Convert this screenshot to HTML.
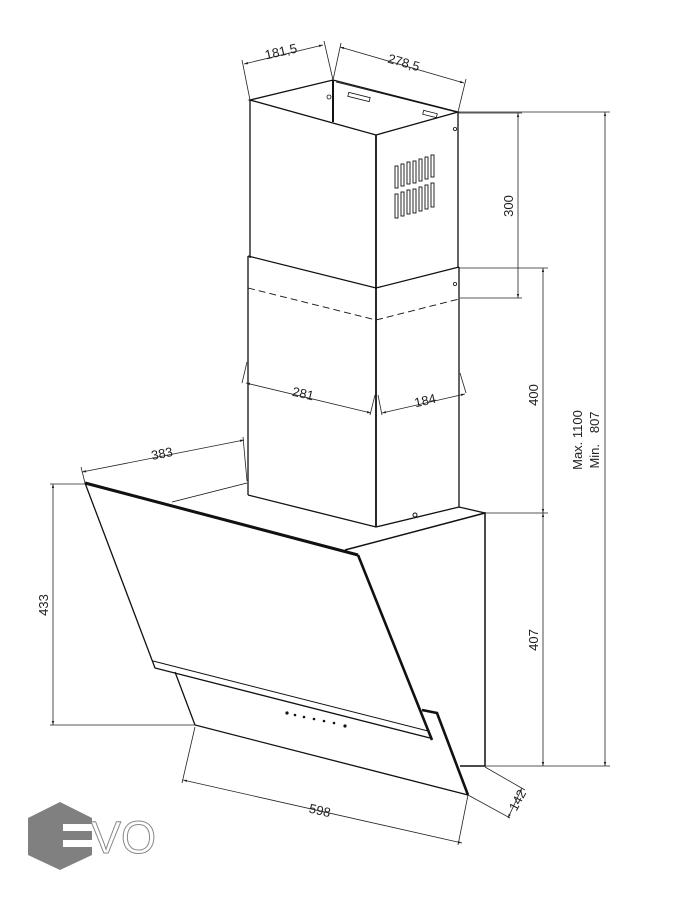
<!DOCTYPE html>
<html><head><meta charset="utf-8"><style>
html,body{margin:0;padding:0;background:#fff;}
svg{display:block;}
text{font-family:"Liberation Sans",sans-serif;font-size:13px;fill:#222;}
</style></head><body>
<svg width="699" height="900" viewBox="0 0 699 900" xmlns="http://www.w3.org/2000/svg">
<defs>
<marker id="a" viewBox="0 0 10 10" refX="10" refY="5" markerWidth="7" markerHeight="5" orient="auto-start-reverse"><path d="M0,2 L10,5 L0,8 z" fill="#222"/></marker>
</defs>
<g fill="none" stroke="#111" stroke-width="1.3">
<path d="M250,100 L333,80 L458,112 L376,135 Z"/>
<line x1="250" y1="100" x2="250" y2="258"/>
<line x1="376" y1="135" x2="376" y2="527" stroke-width="1.8"/>
<line x1="458" y1="112" x2="458" y2="268"/>
<line x1="333" y1="80" x2="333" y2="122" stroke-width="2"/>
<line x1="336" y1="82" x2="456" y2="112" stroke-width="0.8"/>
<rect x="348" y="95" width="22" height="4" transform="rotate(14 359 97)" stroke-width="0.8"/>
<rect x="423" y="112" width="14" height="4" transform="rotate(14 430 114)" stroke-width="0.8"/>
<circle cx="329" cy="97" r="2" stroke-width="0.8"/>
<circle cx="455" cy="129" r="1.6" stroke-width="0.8"/>
<g stroke-width="0.9">
<rect x="395" y="166" width="3" height="22"/><rect x="401" y="164" width="3" height="22"/><rect x="407" y="162" width="3" height="22"/><rect x="413" y="161" width="3" height="22"/><rect x="419" y="159" width="3" height="22"/><rect x="425" y="157" width="3" height="22"/><rect x="431" y="155" width="3" height="22"/>
<rect x="395" y="194" width="3" height="24"/><rect x="401" y="192" width="3" height="24"/><rect x="407" y="190" width="3" height="24"/><rect x="413" y="189" width="3" height="24"/><rect x="419" y="187" width="3" height="24"/><rect x="425" y="185" width="3" height="24"/><rect x="431" y="183" width="3" height="24"/>
</g>
<path d="M248,256 L376,288 L459,267"/>
<path d="M248,288 L376,320 L459,299" stroke-dasharray="7,4" stroke-width="0.9"/>
<line x1="248" y1="256" x2="248" y2="495"/>
<line x1="459" y1="267" x2="459" y2="507"/>
<path d="M248,495 L376,527 L459,507 L485,513"/>
<circle cx="455" cy="284" r="1.6" stroke-width="0.8"/>
<circle cx="415" cy="515" r="2" stroke-width="1"/>
<line x1="172" y1="502" x2="247" y2="483" stroke-width="0.9"/>
<path d="M85,483 L358,555" stroke-width="3"/>
<path d="M85,483 L155,668 L430,738"/>
<path d="M358,555 L432,740" stroke-width="2.6"/>
<line x1="153" y1="661" x2="428" y2="731" stroke-width="1"/>
<path d="M345,550 L485,513 L485,766 L460,766" stroke-width="1.5"/>
<path d="M175,672 L195,725 L468,795"/>
<path d="M422,710 L437,713 L468,795" stroke-width="2.6"/>
<g fill="#111" stroke="none">
<circle cx="287" cy="713" r="1.6"/><circle cx="295" cy="715" r="1.3"/><circle cx="304" cy="717" r="1.3"/><circle cx="314" cy="719" r="1.3"/><circle cx="324" cy="721" r="1.3"/><circle cx="334" cy="723" r="1.3"/><circle cx="345" cy="726" r="1.6"/>
</g>
</g>
<g fill="none" stroke="#222" stroke-width="0.8">
<line x1="250" y1="100" x2="242" y2="60"/><line x1="333" y1="80" x2="324" y2="41"/>
<line x1="244" y1="64" x2="323" y2="45" marker-start="url(#a)" marker-end="url(#a)"/>
<line x1="333" y1="80" x2="341" y2="43"/><line x1="458" y1="112" x2="466" y2="79"/>
<line x1="340" y1="47" x2="464" y2="83" marker-start="url(#a)" marker-end="url(#a)"/>
<line x1="458" y1="113" x2="522" y2="113"/><line x1="460" y1="298" x2="522" y2="298"/>
<line x1="518" y1="113" x2="518" y2="298" marker-start="url(#a)" marker-end="url(#a)"/>
<line x1="459" y1="268" x2="548" y2="268"/><line x1="485" y1="513" x2="548" y2="513"/>
<line x1="543" y1="268" x2="543" y2="513" marker-start="url(#a)" marker-end="url(#a)"/>
<line x1="485" y1="766" x2="610" y2="766"/>
<line x1="543" y1="513" x2="543" y2="766" marker-start="url(#a)" marker-end="url(#a)"/>
<line x1="458" y1="112" x2="610" y2="112"/>
<line x1="605" y1="112" x2="605" y2="766" marker-start="url(#a)" marker-end="url(#a)"/>
<line x1="50" y1="484" x2="85" y2="484"/><line x1="50" y1="725" x2="195" y2="725"/>
<line x1="53" y1="484" x2="53" y2="725" marker-start="url(#a)" marker-end="url(#a)"/>
<line x1="85" y1="483" x2="81" y2="467"/><line x1="247" y1="481" x2="243" y2="437"/>
<line x1="82" y1="472" x2="244" y2="440" marker-start="url(#a)" marker-end="url(#a)"/>
<line x1="247" y1="362" x2="242" y2="383"/><line x1="375" y1="395" x2="370" y2="415"/>
<line x1="246" y1="383" x2="371" y2="413" marker-start="url(#a)" marker-end="url(#a)"/>
<line x1="378" y1="395" x2="382" y2="415"/><line x1="460" y1="373" x2="466" y2="393"/>
<line x1="382" y1="413" x2="465" y2="394" marker-start="url(#a)" marker-end="url(#a)"/>
<line x1="195" y1="727" x2="182" y2="783"/><line x1="468" y1="795" x2="458" y2="845"/>
<line x1="183" y1="780" x2="462" y2="843" marker-start="url(#a)" marker-end="url(#a)"/>
<line x1="485" y1="767" x2="525" y2="790"/>
<line x1="468" y1="795" x2="510" y2="818"/>
<line x1="508" y1="818" x2="522" y2="788" marker-start="url(#a)" marker-end="url(#a)"/>
</g>
<g>
<text x="281" y="56" text-anchor="middle" transform="rotate(-13 281 52)">181,5</text>
<text x="404" y="67" text-anchor="middle" transform="rotate(16 404 62)">278,5</text>
<text x="518" y="206" text-anchor="middle" transform="rotate(-90 518 206)" dy="-5">300</text>
<text x="543" y="395" text-anchor="middle" transform="rotate(-90 543 395)" dy="-5">400</text>
<text x="543" y="640" text-anchor="middle" transform="rotate(-90 543 640)" dy="-5">407</text>
<text x="582" y="440" text-anchor="middle" transform="rotate(-90 582 440)">Max. 1100</text>
<text x="599" y="440" text-anchor="middle" transform="rotate(-90 599 440)" xml:space="preserve">Min.   807</text>
<text x="53" y="605" text-anchor="middle" transform="rotate(-90 53 605)" dy="-5">433</text>
<text x="162" y="458" text-anchor="middle" transform="rotate(-11 162 454)">383</text>
<text x="303" y="398" text-anchor="middle" transform="rotate(13 303 394)">281</text>
<text x="425" y="405" text-anchor="middle" transform="rotate(-13 425 400)">184</text>
<text x="320" y="815" text-anchor="middle" transform="rotate(13 320 810)">598</text>
<text x="517" y="805" text-anchor="middle" transform="rotate(-62 517 800)">142</text>
</g>
<polygon points="60,802 92,818 92,855 60,870 28,855 28,818" fill="#808080"/>
<rect x="63" y="824" width="32" height="7" fill="#fff"/>
<rect x="63" y="840" width="32" height="7" fill="#fff"/>
<text x="91" y="853" style="font-size:45px;fill:#fff;stroke:#888;stroke-width:1">VO</text>
</svg>
</body></html>
